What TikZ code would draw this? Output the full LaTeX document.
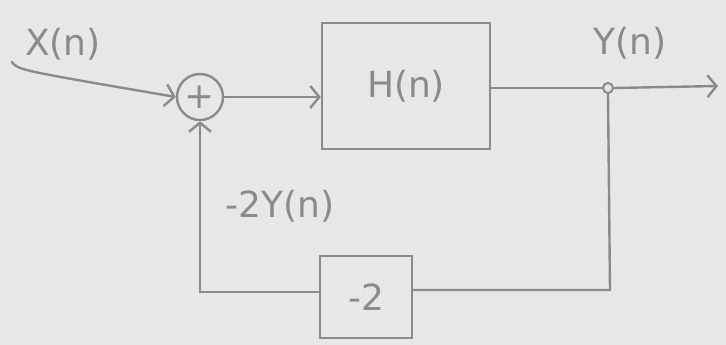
\documentclass[tikz,border=0pt]{standalone}
\usepackage{fontspec}
\setmainfont{DejaVu Sans}
\usetikzlibrary{arrows.meta}
\definecolor{paper}{HTML}{E7E7E5}
\definecolor{pencil}{HTML}{8A8A8A}
\begin{document}
\begin{tikzpicture}[x=1pt,y=-1pt,
  line/.style={draw=pencil,line width=2.4pt,line cap=round},
  tip/.style={-{Straight Barb[length=9pt,width=22pt,line width=2.4pt]}},
  lbl/.style={text=pencil,font=\fontsize{36}{38}\selectfont,inner sep=0pt},
  blk/.style={draw=pencil,line width=2.4pt,inner sep=0pt}]
\fill[paper] (0,0) rectangle (726,345);
\useasboundingbox (0,0) rectangle (726,345);
% nodes
\node[blk,circle,minimum size=46pt] (sum) at (200,97) {};
\node[lbl] at (sum) {+};
\node[blk,minimum width=168pt,minimum height=126pt] (H) at (406,86) {};
\node[lbl] at (H) {H(n)};
\node[blk,minimum width=92pt,minimum height=82pt] (g) at (366,297) {};
\node[lbl] at (g) {-2};
\node[draw=pencil,line width=2pt,circle,minimum size=10pt,inner sep=0pt] (j) at (608,88) {};
\coordinate (in) at (12,62);
\coordinate (out) at (718,86);
\coordinate (br) at (610,290);
\coordinate (bl) at (200,292);
% labels
\node[lbl] at (63,44) {X(n)};
\node[lbl] at (630,43) {Y(n)};
\node[lbl] at (280,206) {-2Y(n)};
% connectors
\draw[line,tip] (in) .. controls (18,70) .. (sum.west);
\draw[line,tip] (sum.east) -- (H.west |- sum.east);
\draw[line] (H.east |- j) -- (j.west);
\draw[line,tip] (j.east) -- (out);
\draw[line] (j.south) -- (br) -- (g.east |- br);
\draw[line] (g.west |- bl) -- (bl);
\draw[line,tip] (bl) -- (sum.south);
\end{tikzpicture}
\end{document}
